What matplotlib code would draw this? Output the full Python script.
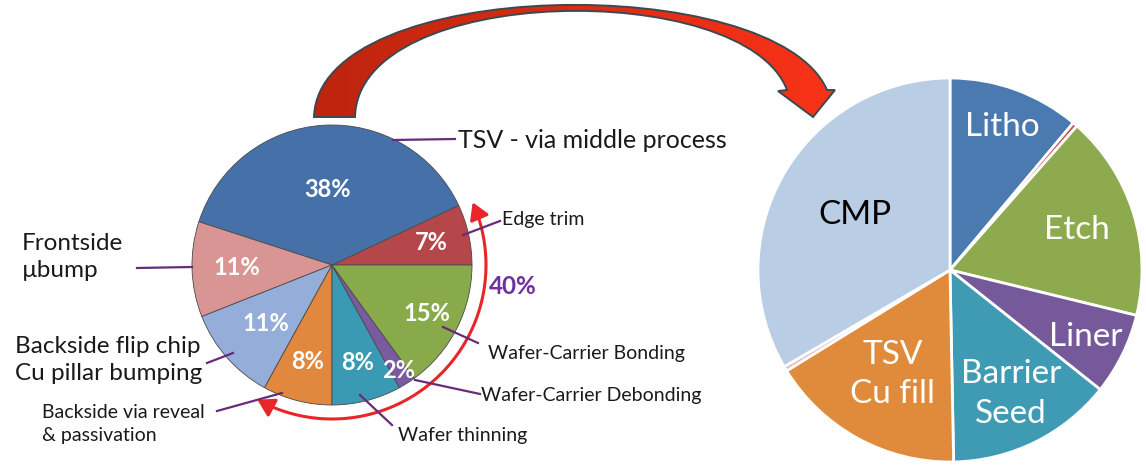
import numpy as np
import matplotlib
matplotlib.use("Agg")
import matplotlib.pyplot as plt
from matplotlib.path import Path
from matplotlib.patches import PathPatch, FancyArrowPatch

plt.rcParams['font.family'] = ['Lato', 'DejaVu Sans']

# left pie: 3D process cost split (counter-clockwise from 3 o'clock)
step_names = ['Edge trim', 'TSV - via middle process', 'Frontside\nµbump',
              'Backside flip chip\nCu pillar bumping', 'Backside via reveal\n& passivation',
              'Wafer thinning', 'Wafer-Carrier Debonding', 'Wafer-Carrier Bonding']
step_share = [7, 38, 11, 11, 8, 8, 2, 15]
step_colors = ['#B5464A', '#4571A8', '#D99593', '#94ADD9', '#E1883E', '#3A9AB3', '#7A5AA0', '#89AA4B']

# right pie: TSV breakdown (clockwise from 12 o'clock)
tsv_names = ['Litho', '', 'Etch', 'Liner', 'Barrier\nSeed', 'TSV\nCu fill', '', 'CMP']
tsv_share = [11.1, 0.4, 17.3, 6.9, 14.0, 16.5, 0.4, 33.4]
tsv_colors = ['#4A7AB0', '#C0504D', '#8DAA4E', '#76599B', '#3F9AB4', '#E08A3C', '#E6B9B8', '#B9CDE5']

W, H = 1146, 466
fig = plt.figure(figsize=(W / 100, H / 100), dpi=100)
ax = fig.add_axes([0, 0, 1, 1])

def py(y):
    return H - y

# ---- left pie
c1 = (332, py(265))
r1 = 140
w1, _ = ax.pie(step_share, colors=step_colors, startangle=0, counterclock=True,
               center=c1, radius=r1,
               wedgeprops=dict(edgecolor='#4a4a4a', linewidth=0.6))
pct_dist = [0.73, 0.54, 0.68, 0.63, 0.71, 0.72, 0.89, 0.76]
for w, v, d in zip(w1, step_share, pct_dist):
    a = np.deg2rad((w.theta1 + w.theta2) / 2)
    ax.text(c1[0] + d * r1 * np.cos(a), c1[1] + d * r1 * np.sin(a), f'{v}%',
            ha='center', va='center', color='white', fontsize=17, fontweight='bold')

# ---- right pie
c2 = (950, py(270))
r2 = 192
w2, _ = ax.pie(tsv_share, colors=tsv_colors, startangle=90, counterclock=False,
               center=c2, radius=r2,
               wedgeprops=dict(edgecolor='white', linewidth=2))
lab_dist = [0.79, 0, 0.69, 0.79, 0.72, 0.62, 0, 0.57]
for w, name, d in zip(w2, tsv_names, lab_dist):
    if not name:
        continue
    a = np.deg2rad((w.theta1 + w.theta2) / 2)
    ax.text(c2[0] + d * r2 * np.cos(a), c2[1] + d * r2 * np.sin(a), name,
            ha='center', va='center', fontsize=24, linespacing=1.4,
            color='black' if name == 'CMP' else 'white')

# ---- labels and leader lines for the left pie
lead = '#6A2A7A'
txt = '#1a1a1a'
callouts = [
    # text, x, y, size, line start, line end
    (step_names[1], 458, 140, 18, (393, 140), (455, 139)),
    (step_names[0], 502, 220, 14, (463, 235), (500, 221)),
    (step_names[7], 488, 353, 14, (443, 327), (478, 343)),
    (step_names[6], 481, 396, 14, (415, 380), (480, 394)),
    (step_names[5], 398, 435, 14, (360, 395), (392, 425)),
]
for s, x, y, fs, p0, p1 in callouts:
    ax.text(x, py(y), s, ha='left', va='center', fontsize=fs, color=txt)
    ax.plot([p0[0], p1[0]], [py(p0[1]), py(p1[1])], color=lead, lw=1.6)

left_callouts = [
    (step_names[2], 22, 257, 17.5, 1.4, (137, 268), (192, 267)),
    (step_names[3], 15, 360, 17.5, 1.4, (207, 363), (233, 353)),
    (step_names[4], 42, 424, 14, 1.5, (217, 411), (282, 393)),
]
for s, x, y, fs, ls, p0, p1 in left_callouts:
    ax.text(x, py(y), s, ha='left', va='center', fontsize=fs, color=txt, linespacing=ls)
    ax.plot([p0[0], p1[0]], [py(p0[1]), py(p1[1])], color=lead, lw=1.6)

ax.text(489, py(287), '40%', ha='left', va='center', fontsize=17.5,
        fontweight='bold', color='#7030A0')

# ---- thin red arc with arrowheads around the 40% group
ang = np.deg2rad(np.linspace(-119, 24, 80))
arc = np.column_stack([c1[0] + 154 * np.cos(ang), c1[1] + 154 * np.sin(ang)])
ax.add_patch(FancyArrowPatch(path=Path(arc), arrowstyle='<|-|>,head_length=5,head_width=3',
                             color='#E8262A', lw=2.2, mutation_scale=2))

# ---- big curved arrow from left pie to right pie
verts = [(314, 117), (318, -25), (775, -30), (827, 90),
         (835, 90), (813, 117), (778, 91), (787, 90),
         (745, -22), (358, -17), (355, 117), (314, 117)]
codes = [Path.MOVETO, Path.CURVE4, Path.CURVE4, Path.CURVE4,
         Path.LINETO, Path.LINETO, Path.LINETO, Path.LINETO,
         Path.CURVE4, Path.CURVE4, Path.CURVE4, Path.CLOSEPOLY]
big = Path([(x, py(y)) for x, y in verts], codes)
fill = PathPatch(big, facecolor='none', edgecolor='none')
ax.add_patch(fill)
grad = np.linspace(0, 1, 256).reshape(1, -1)
cmap = matplotlib.colors.LinearSegmentedColormap.from_list('arr', ['#BD240E', '#FA3318'])
im = ax.imshow(grad, cmap=cmap, extent=(310, 840, py(120), py(0)), aspect='auto', zorder=3)
im.set_clip_path(fill)
ax.add_patch(PathPatch(big, facecolor='none', edgecolor='#3C4A50', lw=1.4, zorder=4))

ax.set_xlim(0, W)
ax.set_ylim(0, H)
ax.set_aspect('auto')
ax.axis('off')

fig.savefig('out.png', dpi=100)
